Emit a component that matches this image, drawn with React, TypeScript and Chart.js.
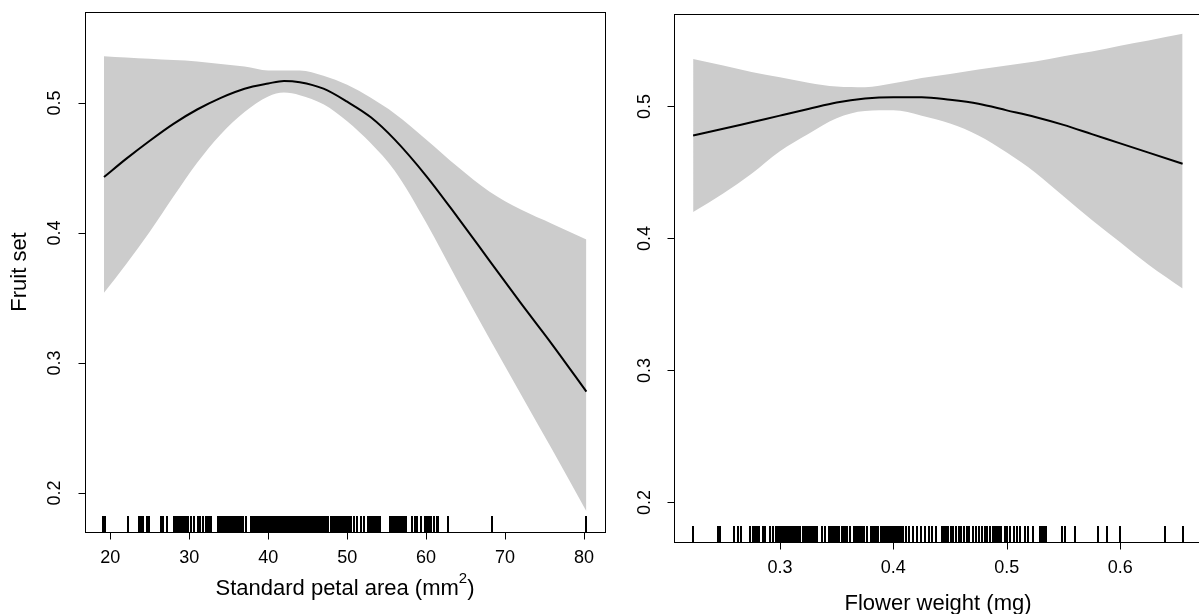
import React, { useEffect, useRef } from "react";
import { Chart, registerables } from "chart.js";

Chart.register(...registerables);

// ---------- Left panel: Standard petal area ----------
const petalX = [19.2, 22, 25, 28, 31, 34, 37, 40, 42, 44, 47, 50, 53, 56, 60, 64, 68, 72, 76, 80.3];
const petalFit = [0.443, 0.457, 0.471, 0.484, 0.495, 0.504, 0.511, 0.515, 0.517, 0.516, 0.511, 0.501, 0.489, 0.472, 0.444, 0.412, 0.379, 0.346, 0.314, 0.278];
const petalUpper = [0.536, 0.535, 0.534, 0.533, 0.532, 0.53, 0.528, 0.525, 0.525, 0.525, 0.521, 0.514, 0.504, 0.492, 0.472, 0.451, 0.432, 0.418, 0.407, 0.395];
const petalLower = [0.354, 0.376, 0.401, 0.428, 0.454, 0.476, 0.493, 0.505, 0.508, 0.506, 0.499, 0.486, 0.469, 0.448, 0.408, 0.363, 0.319, 0.276, 0.233, 0.186];
const petalRug = [
  19.05, 19.2, 19.35, 22.27, 23.65, 23.85, 24.05, 24.2, 24.65, 24.9, 26.36, 26.66, 27.16,
  28.05, 28.2, 28.35, 28.5, 28.65, 28.8, 28.95, 29.1, 29.3, 29.45, 29.6, 29.8, 30.2, 30.66,
  31.08, 31.4, 31.7, 32.1, 32.3, 32.55, 32.76, 33.7, 33.9, 34.1, 34.3, 34.5, 34.7, 34.9,
  35.1, 35.3, 35.5, 35.7, 35.9, 36.1, 36.3, 36.5, 36.75, 37.2, 37.8, 38.0, 38.2, 38.4, 38.6,
  38.8, 39.0, 39.2, 39.4, 39.6, 39.8, 40.0, 40.15, 40.4, 40.6, 40.75, 41.0, 41.2, 41.45,
  41.65, 41.85, 42.0, 42.3, 42.5, 42.7, 42.9, 43.1, 43.3, 43.5, 43.7, 43.9, 44.1, 44.35,
  44.6, 44.8, 45.0, 45.2, 45.4, 45.6, 45.8, 46.0, 46.2, 46.4, 46.6, 46.8, 47.0, 47.2, 47.4,
  47.6, 47.9, 48.1, 48.3, 48.5, 48.7, 48.9, 49.1, 49.3, 49.5, 49.7, 49.9, 50.1, 50.3, 50.5,
  50.9, 51.3, 51.7, 52.1, 52.6, 52.8, 53.0, 53.2, 53.4, 53.7, 53.95, 54.2, 55.4, 55.7,
  55.9, 56.1, 56.3, 56.6, 56.8, 57.0, 57.2, 57.4, 58.2, 58.55, 58.9, 59.3, 59.9, 60.15,
  60.4, 60.6, 61.0, 61.35, 61.55, 62.76, 68.4, 80.2,
];
const petalXTicks = [20, 30, 40, 50, 60, 70, 80];
const petalXTickLabels = ["20", "30", "40", "50", "60", "70", "80"];

// ---------- Right panel: Flower weight ----------
const weightX = [0.2235, 0.25, 0.275, 0.3, 0.325, 0.35, 0.375, 0.4, 0.425, 0.45, 0.475, 0.5, 0.525, 0.55, 0.575, 0.6, 0.625, 0.655];
const weightFit = [0.478, 0.483, 0.488, 0.493, 0.498, 0.503, 0.506, 0.507, 0.507, 0.505, 0.502, 0.497, 0.492, 0.486, 0.479, 0.472, 0.465, 0.4566];
const weightUpper = [0.536, 0.531, 0.526, 0.522, 0.518, 0.515, 0.5145, 0.5175, 0.5215, 0.5245, 0.528, 0.531, 0.534, 0.538, 0.5415, 0.546, 0.55, 0.555];
const weightLower = [0.42, 0.434, 0.449, 0.466, 0.479, 0.491, 0.4965, 0.497, 0.493, 0.487, 0.478, 0.465, 0.45, 0.432, 0.414, 0.397, 0.38, 0.362];
const weightRug = [
  0.2233, 0.2452, 0.2472, 0.2598, 0.2635, 0.2657, 0.2736, 0.2765, 0.2783, 0.28, 0.2818, 0.2848,
  0.2871, 0.2913, 0.2943, 0.2966, 0.2985, 0.3, 0.3015, 0.303, 0.3045, 0.306, 0.3075, 0.309,
  0.3105, 0.312, 0.3135, 0.315, 0.3165, 0.318, 0.3205, 0.322, 0.3235, 0.325, 0.3265, 0.328,
  0.3295, 0.331, 0.333, 0.3367, 0.34, 0.343, 0.3445, 0.346, 0.3475, 0.349, 0.3505, 0.352,
  0.355, 0.3565, 0.358, 0.3595, 0.362, 0.3657, 0.367, 0.3685, 0.37, 0.3715, 0.373, 0.3745,
  0.377, 0.3805, 0.382, 0.3835, 0.385, 0.3865, 0.389, 0.3905, 0.392, 0.3935, 0.395, 0.3965,
  0.398, 0.3995, 0.401, 0.4025, 0.404, 0.4055, 0.407, 0.4085, 0.411, 0.414, 0.4175, 0.421,
  0.424, 0.4276, 0.431, 0.434, 0.4377, 0.4428, 0.4445, 0.446, 0.4485, 0.451, 0.453, 0.455,
  0.4575, 0.46, 0.462, 0.4645, 0.467, 0.47, 0.473, 0.4755, 0.478, 0.4805, 0.483, 0.4855,
  0.488, 0.49, 0.4915, 0.493, 0.495, 0.498, 0.5005, 0.503, 0.506, 0.509, 0.512, 0.5157,
  0.5186, 0.523, 0.529, 0.531, 0.533, 0.5348, 0.549, 0.5516, 0.5598, 0.5803, 0.5886, 0.5995,
  0.6397, 0.6553,
];
const weightXTicks = [0.3, 0.4, 0.5, 0.6];
const weightXTickLabels = ["0.3", "0.4", "0.5", "0.6"];

// ---------- Shared y axis ----------
const fruitYTicks = [0.2, 0.3, 0.4, 0.5];
const fruitYTickLabels = ["0.2", "0.3", "0.4", "0.5"];

const FONT = '"Liberation Sans", Arial, Helvetica, sans-serif';

type Panel = {
  xs: number[];
  fit: number[];
  upper: number[];
  lower: number[];
  rug: number[];
  xTicks: number[];
  xTickLabels: string[];
  xMin: number;
  xMax: number;
  padding: { left: number; right: number; top: number; bottom: number };
  xLabelY: number;
  yLabelOffset: number;
  title: string;
  titleSup?: string;
  titleTail?: string;
  titleY: number;
  yTitle?: string;
};

function makeChart(canvas: HTMLCanvasElement, cfg: Panel) {
  const toPts = (xs: number[], ys: number[]) => xs.map((x, i) => ({ x, y: ys[i] }));
  const axesPlugin = {
    id: "rAxes",
    afterDraw(chart: any) {
      const { ctx, chartArea: a, scales } = chart;
      const xs = scales.x;
      const ys = scales.y;
      ctx.save();
      // rug
      ctx.strokeStyle = "#000";
      ctx.lineWidth = 2;
      ctx.beginPath();
      for (const v of cfg.rug) {
        const px = Math.round(xs.getPixelForValue(v));
        ctx.moveTo(px, a.bottom);
        ctx.lineTo(px, a.bottom - 16);
      }
      ctx.stroke();
      // box
      ctx.lineWidth = 1;
      const L = Math.round(a.left) + 0.5;
      const R = Math.round(a.right) + 0.5;
      const T = Math.round(a.top) + 0.5;
      const B = Math.round(a.bottom) + 0.5;
      ctx.strokeRect(L, T, R - L, B - T);
      // x ticks
      ctx.fillStyle = "#000";
      ctx.font = `18px ${FONT}`;
      ctx.textAlign = "center";
      ctx.textBaseline = "middle";
      ctx.beginPath();
      cfg.xTicks.forEach((v) => {
        const px = Math.round(xs.getPixelForValue(v)) + 0.5;
        ctx.moveTo(px, B);
        ctx.lineTo(px, B + 7);
      });
      ctx.stroke();
      cfg.xTicks.forEach((v, i) => {
        const px = xs.getPixelForValue(v);
        ctx.fillText(cfg.xTickLabels[i], px, cfg.xLabelY);
      });
      // y ticks
      ctx.beginPath();
      fruitYTicks.forEach((v) => {
        const py = Math.round(ys.getPixelForValue(v)) + 0.5;
        ctx.moveTo(L, py);
        ctx.lineTo(L - 7, py);
      });
      ctx.stroke();
      fruitYTicks.forEach((v, i) => {
        const py = ys.getPixelForValue(v);
        ctx.save();
        ctx.translate(a.left - cfg.yLabelOffset, py);
        ctx.rotate(-Math.PI / 2);
        ctx.fillText(fruitYTickLabels[i], 0, 0);
        ctx.restore();
      });
      // x title (with optional superscript)
      const cx = (a.left + a.right) / 2;
      ctx.font = `22px ${FONT}`;
      const w1 = ctx.measureText(cfg.title).width;
      let w2 = 0;
      let w3 = 0;
      if (cfg.titleSup) {
        ctx.font = `15px ${FONT}`;
        w2 = ctx.measureText(cfg.titleSup).width;
        ctx.font = `22px ${FONT}`;
        w3 = ctx.measureText(cfg.titleTail || "").width;
      }
      const total = w1 + w2 + w3;
      const x0 = cx - total / 2;
      ctx.textAlign = "left";
      ctx.font = `22px ${FONT}`;
      ctx.fillText(cfg.title, x0, cfg.titleY);
      if (cfg.titleSup) {
        ctx.font = `15px ${FONT}`;
        ctx.fillText(cfg.titleSup, x0 + w1, cfg.titleY - 10);
        ctx.font = `22px ${FONT}`;
        ctx.fillText(cfg.titleTail || "", x0 + w1 + w2, cfg.titleY);
      }
      // y title
      if (cfg.yTitle) {
        ctx.save();
        ctx.textAlign = "center";
        ctx.font = `22px ${FONT}`;
        ctx.translate(20, (a.top + a.bottom) / 2);
        ctx.rotate(-Math.PI / 2);
        ctx.fillText(cfg.yTitle, 0, 0);
        ctx.restore();
      }
      ctx.restore();
    },
  };
  return new Chart(canvas, {
    type: "line",
    data: {
      datasets: [
        {
          data: toPts(cfg.xs, cfg.upper),
          borderWidth: 0,
          borderColor: "rgba(0,0,0,0)",
          pointRadius: 0,
          fill: "+1",
          backgroundColor: "#cccccc",
          order: 2,
          cubicInterpolationMode: "monotone",
        },
        {
          data: toPts(cfg.xs, cfg.lower),
          borderWidth: 0,
          borderColor: "rgba(0,0,0,0)",
          pointRadius: 0,
          fill: false,
          order: 1,
          cubicInterpolationMode: "monotone",
        },
        {
          data: toPts(cfg.xs, cfg.fit),
          borderColor: "#000",
          borderWidth: 2,
          pointRadius: 0,
          fill: false,
          order: 0,
          cubicInterpolationMode: "monotone",
        },
      ],
    },
    options: {
      responsive: false,
      animation: false,
      devicePixelRatio: 1,
      events: [],
      layout: { padding: cfg.padding },
      scales: {
        x: { type: "linear", min: cfg.xMin, max: cfg.xMax, display: false },
        y: { type: "linear", min: 0.17, max: 0.57, display: false },
      },
      plugins: {
        legend: { display: false },
        tooltip: { enabled: false },
        filler: { drawTime: "beforeDatasetsDraw" },
      },
    } as any,
    plugins: [axesPlugin],
  });
}

const leftPanel: Panel = {
  xs: petalX,
  fit: petalFit,
  upper: petalUpper,
  lower: petalLower,
  rug: petalRug,
  xTicks: petalXTicks,
  xTickLabels: petalXTickLabels,
  xMin: 16.795,
  xMax: 82.66,
  padding: { left: 85, right: 35, top: 12, bottom: 82 },
  xLabelY: 558,
  yLabelOffset: 30,
  title: "Standard petal area (mm",
  titleSup: "2",
  titleTail: ")",
  titleY: 589,
  yTitle: "Fruit set",
};

const rightPanel: Panel = {
  xs: weightX,
  fit: weightFit,
  upper: weightUpper,
  lower: weightLower,
  rug: weightRug,
  xTicks: weightXTicks,
  xTickLabels: weightXTickLabels,
  xMin: 0.20664,
  xMax: 0.6721,
  padding: { left: 54, right: 18, top: 14, bottom: 72 },
  xLabelY: 568,
  yLabelOffset: 29,
  title: "Flower weight (mg)",
  titleY: 604,
};

export default function App() {
  const leftRef = useRef<HTMLCanvasElement>(null);
  const rightRef = useRef<HTMLCanvasElement>(null);
  useEffect(() => {
    const c1 = makeChart(leftRef.current!, leftPanel);
    const c2 = makeChart(rightRef.current!, rightPanel);
    return () => {
      c1.destroy();
      c2.destroy();
    };
  }, []);
  return (
    <div
      style={{
        position: "absolute",
        left: 0,
        top: 0,
        width: 1199,
        height: 614,
        overflow: "hidden",
        background: "#fff",
      }}
    >
      <canvas ref={leftRef} width={640} height={614} style={{ position: "absolute", left: 0, top: 0 }} />
      <canvas ref={rightRef} width={600} height={614} style={{ position: "absolute", left: 620, top: 0 }} />
    </div>
  );
}
